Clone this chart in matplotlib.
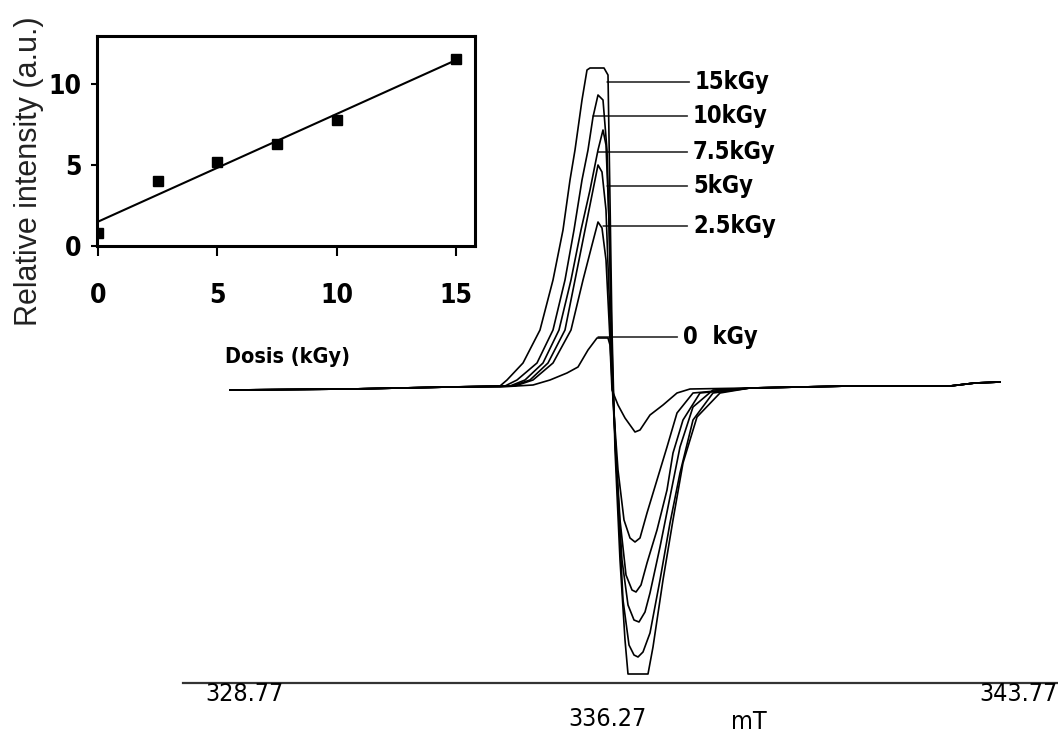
import numpy as np
import matplotlib
matplotlib.use("Agg")
import matplotlib.pyplot as plt

NARROW = ['Liberation Sans Narrow', 'DejaVu Sans']
SANS = ['Liberation Sans', 'DejaVu Sans']

# -------------------------------
# Inset data: relative intensity vs dose
# -------------------------------
dose = [0, 2.5, 5, 7.5, 10, 15]
intensity = [0.8, 4.0, 5.2, 6.3, 7.8, 11.6]

# -------------------------------
# ESR spectra (field in mT, signal in a.u.)
# -------------------------------
base_left_field = [328.13, 330.53, 332.53]
base_left_sig = [0, 1, 3]
base_right_field = [338.53, 340.53, 342.53, 343.03, 343.53]
base_right_sig = [2, 4, 4, 7, 8]

field_15 = [333.53, 333.67, 333.99, 334.33, 334.59, 334.79, 334.93, 335.03, 335.17, 335.27,
            335.33, 335.61, 335.69, 335.73, 335.77, 335.83, 335.93, 336.03, 336.09, 336.49,
            336.59, 336.79, 336.99, 337.19, 337.47, 337.93]
sig_15 = [4, 10, 27, 60, 110, 160, 210, 240, 290, 320,
          322, 322, 315, 190, 60, -60, -170, -250, -284, -284,
          -257, -190, -130, -73, -27, -3]

field_10 = [333.63, 333.87, 334.27, 334.59, 334.83, 335.01, 335.17, 335.29, 335.39, 335.49,
            335.59, 335.67, 335.73, 335.79, 335.89, 335.99, 336.11, 336.21, 336.29, 336.39,
            336.53, 336.73, 336.93, 337.13, 337.39, 337.79]
sig_10 = [4, 10, 27, 60, 110, 160, 210, 240, 273, 295,
          290, 240, 130, 0, -110, -210, -255, -265, -267, -262,
          -243, -190, -133, -83, -30, -3]

field_75 = [333.73, 334.03, 334.39, 334.71, 334.95, 335.15, 335.33, 335.49, 335.59, 335.65,
            335.71, 335.77, 335.85, 335.97, 336.09, 336.21, 336.31, 336.43, 336.53, 336.73,
            336.93, 337.13, 337.39, 337.79]
sig_75 = [4, 10, 27, 60, 110, 160, 200, 240, 260, 245,
          170, 30, -70, -170, -215, -230, -232, -222, -203, -157,
          -107, -57, -17, 0]

field_5 = [333.77, 334.13, 334.49, 334.83, 335.03, 335.23, 335.39, 335.49, 335.57, 335.65,
           335.73, 335.81, 335.93, 336.05, 336.17, 336.25, 336.35, 336.47, 336.67, 336.87,
           336.99, 337.19, 337.53]
sig_5 = [4, 10, 27, 60, 110, 160, 200, 225, 218, 180,
         70, -30, -130, -185, -200, -202, -195, -173, -140, -100,
         -63, -30, -3]

field_25 = [333.83, 334.19, 334.59, 334.95, 335.19, 335.37, 335.49, 335.57, 335.65, 335.73,
            335.79, 335.89, 336.01, 336.13, 336.23, 336.33, 336.47, 336.67, 336.87, 337.07,
            337.39]
sig_25 = [4, 10, 27, 60, 110, 145, 168, 162, 130, 50,
          -10, -80, -130, -148, -152, -148, -123, -90, -57, -23,
          -3]

field_0 = [333.53, 334.19, 334.53, 334.87, 335.09, 335.29, 335.47, 335.69, 335.73, 335.77,
           335.89, 336.03, 336.23, 336.33, 336.53, 336.79, 337.07, 337.33]
sig_0 = [3, 5, 10, 17, 23, 40, 52, 52, 45, 0,
         -15, -28, -42, -40, -25, -15, -3, 1]

spectra = [
    (field_0, sig_0), (field_25, sig_25), (field_5, sig_5),
    (field_75, sig_75), (field_10, sig_10), (field_15, sig_15),
]

# label text, leader start (field, signal), text position (field, signal)
labels = ["15kGy", "10kGy", "7.5kGy", "5kGy", "2.5kGy", "0  kGy"]
leader_start = [(335.67, 308), (335.39, 274), (335.49, 238), (335.67, 204), (335.59, 164), (335.49, 53)]
label_pos = [(337.43, 308), (337.39, 274), (337.39, 238), (337.39, 204), (337.39, 164), (337.19, 53)]

# -------------------------------
# Figure
# -------------------------------
fig = plt.figure(figsize=(10.58, 7.34), dpi=100)

ax = fig.add_axes([183 / 1058, 51 / 734, 875 / 1058, 683 / 734])
for f, s in spectra:
    x = np.concatenate([base_left_field, f, base_right_field])
    y = np.concatenate([base_left_sig, s, base_right_sig])
    ax.plot(x, y, color='black', lw=1.2)

ax.set_xlim(327.19, 344.69)
ax.set_ylim(-293, 390)
for side in ['left', 'top', 'right']:
    ax.spines[side].set_visible(False)
ax.spines['bottom'].set_linewidth(1.6)
ax.spines['bottom'].set_color('#333333')
ax.set_xticks([])
ax.set_yticks([])

for txt, xy, xyt in zip(labels, leader_start, label_pos):
    ax.annotate(txt, xy=xy, xytext=xyt, ha='left', va='center',
                fontsize=17, fontweight='bold', family=NARROW, fontstretch='condensed',
                arrowprops=dict(arrowstyle='-', lw=1.0, color='black', shrinkA=2, shrinkB=0))

# field labels under the axis line
tick_kw = dict(ha='center', va='center', fontsize=18, family=NARROW, fontstretch='condensed')
fig.text(244 / 1058, 1 - 694 / 734, "328.77", **tick_kw)
fig.text(607 / 1058, 1 - 719 / 734, "336.27", **tick_kw)
fig.text(749 / 1058, 1 - 722 / 734, "mT", **tick_kw)
fig.text(1018 / 1058, 1 - 694 / 734, "343.77", **tick_kw)

# -------------------------------
# Inset: dose response
# -------------------------------
axi = fig.add_axes([97 / 1058, (734 - 246) / 734, 378 / 1058, 210 / 734])
axi.plot(dose, intensity, 's', color='black', markersize=7)
slope, intercept = np.polyfit(dose, intensity, 1)
xfit = np.array([dose[0], dose[-1]])
axi.plot(xfit, slope * xfit + intercept, color='black', lw=1.5)

axi.set_xlim(-0.04, 15.8)
axi.set_ylim(0, 13)
axi.set_xticks([0, 5, 10, 15])
axi.set_yticks([0, 5, 10])
for sp in axi.spines.values():
    sp.set_linewidth(2.2)
axi.tick_params(axis='x', direction='out', length=7, width=1.5, pad=20)
axi.tick_params(axis='y', direction='out', length=4, width=1.5, pad=7)
for lab in axi.get_xticklabels() + axi.get_yticklabels():
    lab.set_family(NARROW)
    lab.set_stretch('condensed')
    lab.set_fontweight('bold')
    lab.set_fontsize(19)

axi.set_xlabel("Dosis (kGy)", fontsize=15.5, fontweight='bold', family=NARROW, fontstretch='condensed')
axi.xaxis.set_label_coords(0.505, -0.53)
axi.xaxis.label.set_va('center')
axi.set_ylabel("Relative intensity (a.u.)", fontsize=22, family=SANS, color='#222222')
axi.yaxis.set_label_coords(-0.18, 0.357)
axi.yaxis.label.set_va('center')

fig.savefig("out.png", dpi=100)
